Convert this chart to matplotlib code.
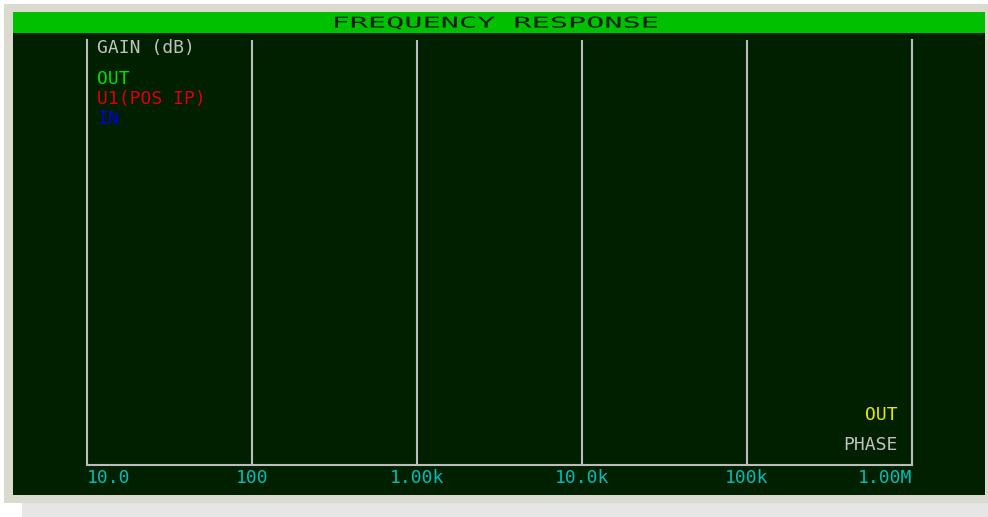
import matplotlib
matplotlib.use('Agg')
import matplotlib.pyplot as plt
from matplotlib.patches import Rectangle, PathPatch
from matplotlib.textpath import TextPath
from matplotlib.font_manager import FontProperties
from matplotlib.transforms import Affine2D

# data
freq_ticks = [10, 100, 1e3, 1e4, 1e5, 1e6]
freq_labels = ['10.0', '100', '1.00k', '10.0k', '100k', '1.00M']
gain_traces = ['OUT', 'U1(POS IP)', 'IN']
gain_colors = ['#00e000', '#e00000', '#0000e0']
phase_traces = ['OUT']
phase_colors = ['#e8e800']
title = 'FREQUENCY RESPONSE'

W, H = 988, 517
plt.rcParams['font.family'] = ['DejaVu Sans Mono']

fig = plt.figure(figsize=(W / 100, H / 100), dpi=100)
fig.patch.set_facecolor('#ffffff')

# background in pixel coordinates (y down)
bg = fig.add_axes([0, 0, 1, 1])
bg.set_xlim(0, W)
bg.set_ylim(H, 0)
bg.axis('off')
bg.add_patch(Rectangle((22, 497), W - 22, 20, color='#e6e6e6', lw=0))
bg.add_patch(Rectangle((4, 4), 984, 499, color='#dadacf', lw=0))
bg.add_patch(Rectangle((13, 12), 972, 483, color='#002000', lw=0))
bg.add_patch(Rectangle((13, 12), 972, 21, color='#00c000', lw=0))

# wide title text, stretched to fit the look of the original
tp = TextPath((0, 0), title, size=17.5, prop=FontProperties(family='DejaVu Sans Mono'))
ext = tp.get_extents()
sx, sy = 322 / ext.width, 13 / ext.height
tr = (Affine2D().translate(-ext.x0 - ext.width / 2, -ext.y0 - ext.height / 2)
      .scale(sx, -sy).translate(496, 23))
bg.add_patch(PathPatch(tr.transform_path(tp), facecolor='#002000', lw=0))

# plot area
x0, x1, y0, y1 = 87, 912, 40, 465
ax = fig.add_axes([x0 / W, 1 - y1 / H, (x1 - x0) / W, (y1 - y0) / H])
ax.set_facecolor('none')
ax.set_xscale('log')
ax.set_xlim(freq_ticks[0], freq_ticks[-1])
ax.set_ylim(0, 1)
grid_c = '#bcbcbc'
for s in ['left', 'right', 'bottom']:
    ax.spines[s].set_color(grid_c)
    ax.spines[s].set_linewidth(1.5)
ax.spines['top'].set_visible(False)
for f in freq_ticks[1:-1]:
    ax.axvline(f, color=grid_c, lw=1.5)
ax.set_yticks([])
ax.set_xticks(freq_ticks)
ax.set_xticklabels(freq_labels)
ax.xaxis.set_minor_locator(matplotlib.ticker.NullLocator())
ax.tick_params(axis='x', length=0, pad=3, labelsize=13, labelcolor='#00bcbc')
tl = ax.get_xticklabels()
tl[0].set_ha('left')
tl[-1].set_ha('right')

fs = 13
# gain legend
ax.text(10 / (x1 - x0), 1 - 8 / (y1 - y0), 'GAIN (dB)', transform=ax.transAxes,
        color='#c0c0c0', fontsize=fs, ha='left', va='center')
for i, (name, c) in enumerate(zip(gain_traces, gain_colors)):
    ax.text(10 / (x1 - x0), 1 - (39 + 20 * i) / (y1 - y0), name,
            transform=ax.transAxes, color=c, fontsize=fs, ha='left', va='center')

# phase legend
for i, (name, c) in enumerate(zip(phase_traces, phase_colors)):
    ax.text(1 - 14 / (x1 - x0), 50 / (y1 - y0), name, transform=ax.transAxes,
            color=c, fontsize=fs, ha='right', va='center')
ax.text(1 - 14 / (x1 - x0), 20 / (y1 - y0), 'PHASE', transform=ax.transAxes,
        color='#c0c0c0', fontsize=fs, ha='right', va='center')

fig.savefig('out.png', dpi=100)
